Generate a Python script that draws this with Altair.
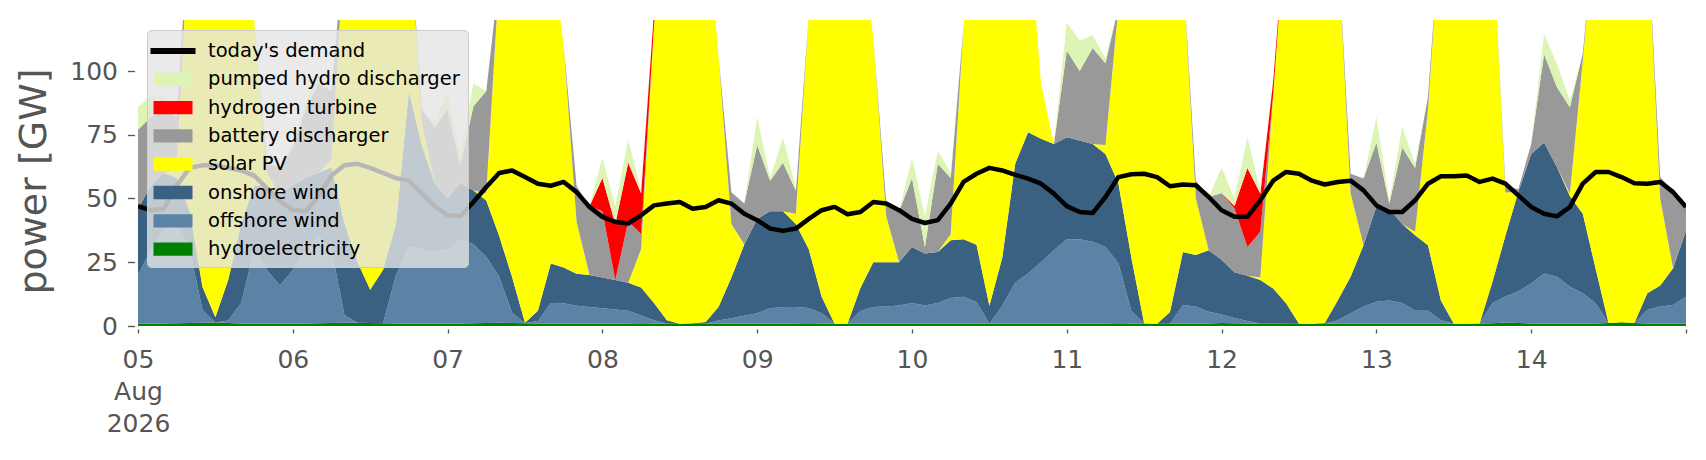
import altair as alt
import pandas as pd

# 2-hourly values, 05 Aug 2026 00:00 .. 15 Aug 2026 00:00 (one line per day)
hydro = [1.0, 1.0, 1.0, 1.1, 1.2, 1.3, 1.4, 1.2, 1.0, 1.0, 0.9, 0.9,
         1.0, 1.0, 1.1, 1.2, 1.3, 1.3, 1.2, 1.1, 1.0, 1.0, 1.0, 0.9,
         1.0, 1.0, 1.1, 1.2, 1.3, 1.2, 1.1, 1.0, 1.0, 0.9, 0.9, 1.0,
         1.0, 1.0, 1.0, 1.1, 1.0, 1.0, 0.9, 0.9, 0.9, 0.9, 1.0, 1.0,
         1.0, 1.0, 1.0, 1.0, 1.1, 1.0, 0.9, 0.9, 0.9, 1.0, 1.0, 1.0,
         1.0, 1.0, 1.0, 1.0, 1.0, 0.9, 0.9, 0.9, 1.0, 1.0, 1.0, 1.0,
         1.0, 1.0, 1.0, 1.0, 1.1, 1.0, 1.0, 0.9, 0.9, 1.0, 1.0, 1.0,
         1.2, 1.1, 1.0, 1.0, 1.0, 0.9, 0.9, 0.9, 1.0, 1.0, 1.0, 1.0,
         1.0, 1.0, 1.0, 1.0, 1.0, 1.0, 0.9, 0.9, 1.0, 1.1, 1.4, 1.2,
         1.0, 1.0, 1.0, 1.0, 1.0, 1.0, 1.2, 1.5, 1.2, 1.0, 1.0, 1.0,
         1.0]

offshore = [19, 29, 37, 39, 29, 5, 0, 1, 8, 29, 21, 15,
            21, 29, 34, 29, 3, 0, 0, 0, 19, 30, 29, 28,
            29, 33, 31, 26, 18, 4, 0, 1, 8, 8, 7, 6.5,
            6, 5.5, 5, 3, 1.3, 0, 0, 0, 0, 1.3, 2, 3,
            4, 6, 6.5, 6.5, 6, 4, 0, 0, 5, 6.5, 6.6, 7,
            8, 7, 8, 10, 10.5, 8.5, 0, 7, 16, 19.6, 24, 28.7,
            33, 33, 32, 30, 23.5, 5, 0, 0, 0, 7.2, 6.6, 4.6,
            3.3, 2, 1, 0, 0, 0, 0, 0, 0, 1.3, 4, 6.6,
            8.5, 9, 8, 5, 5, 1.3, 0, 0, 0, 7.9, 10.2, 12.4,
            15.7, 19.6, 18.3, 14.4, 11.8, 7.9, 0, 0, 0, 5.3, 6.6, 7.2,
            10.5]

onshore = [26, 25, 22, 18, 15, 9, 2, 16, 31, 25, 33, 36,
           33, 28, 25, 32, 36, 24, 13, 21, 20, 61, 41, 27,
           20, 22, 21, 22, 16, 14, 0.2, 4, 15.5, 14, 12.6, 12.5,
           12, 11.5, 11, 11, 6.7, 1.3, 0, 0.2, 0.7, 5.3, 16, 28,
           37, 38, 37.5, 32.5, 23, 6.5, 0, 0, 9, 17.5, 17.4, 17,
           22, 20.4, 20, 22.6, 22.5, 22.5, 7, 19, 46.6, 55.4, 48.4, 41.7,
           40, 38.7, 38.4, 36.5, 31.3, 21, 0, 0, 4.6, 20.8, 20.2, 24.1,
           21.5, 18, 17.7, 17, 13.7, 8, 0, 0, 0.2, 7.7, 14.3, 24.1,
           37.5, 36, 31, 29.6, 25.7, 7.7, 0, 0, 0, 8.4, 23.8, 39,
           50.8, 51.4, 43, 35.6, 31.2, 13.5, 0, 0, 0, 6.5, 8.3, 14.4,
           26]

solar = [0, 0, 0, 4, 115, 155, 162, 147, 110, 65, 5, 0,
         0, 0, 0, 3, 110, 140, 156, 148, 125, 68, 9, 0,
         0, 0, 0, 3, 102, 141, 164, 159, 125.5, 87, 20.4, 0,
         0, 0, 0, 15, 109, 157.7, 169, 168.8, 163.3, 98.4, 21, 0,
         0, 0, 0, 4, 92, 148.5, 164, 164, 140, 88, 18, 0,
         0, 0, 0, 2.4, 84, 128, 157, 143, 116.4, 84, 21.6, 0,
         0, 0, 0, 3.5, 69.2, 138, 169, 169, 154.4, 111, 22.2, 0,
         0, 0, 0, 1, 76.3, 151, 169, 169, 163.8, 140, 32.7, 0,
         0, 0, 0, 1.4, 53.3, 150, 169, 169, 164, 136.7, 17, 0,
         0, 0, 0, 1, 60, 137.6, 169, 169, 164, 143.2, 34.1, 0,
         0]

battery = [31, 27, 25, 20, 0, 0, 0, 0, 0, 0, 4, 10,
           15, 27, 35, 27, 0, 0, 0, 0, 0, 0, 5, 22,
           35, 7, 33, 40, 0, 0, 0, 0, 0, 0, 14, 27,
           26, 0, 24, 6, 0, 0, 0, 0, 0, 0, 12.5, 16,
           29, 12, 19, 9, 0, 0, 0, 0, 0, 0, 5.6, 20,
           27, 2.6, 34.6, 22, 0, 0, 0, 0, 0, 0, 0, 0,
           34, 27.3, 37.6, 32, 0, 0, 0, 0, 0, 0, 7, 20.9,
           26.2, 25, 11.3, 18, 0, 0, 0, 0, 0, 0, 7.7, 26.1,
           25, 2, 30, 25, 5, 0, 0, 0, 0, 0, 2.5, 1,
           3.9, 34.6, 31.3, 33.8, 3, 0, 0, 0, 0, 0, 8.4, 30.4,
           9.2]

hydrogen = [0, 0, 0, 0, 0, 0, 0, 0, 0, 0, 0, 0,
            0, 0, 0, 0, 0, 0, 0, 0, 0, 0, 0, 0,
            0, 0, 0, 0, 0, 0, 0, 0, 0, 0, 0, 0,
            13, 22, 23, 16, 5, 0, 0, 0, 0, 0, 0, 0,
            0, 0, 0, 0, 0, 0, 0, 0, 0, 0, 0, 0,
            0, 0, 0, 0, 0, 0, 0, 0, 0, 0, 0, 0,
            0, 0, 0, 0, 0, 0, 0, 0, 0, 0, 0, 0,
            0, 1, 31, 15, 5, 0, 0, 0, 0, 0, 0, 0,
            0, 0, 0, 0, 0, 0, 0, 0, 0, 0, 0, 0,
            0, 0, 0, 0, 0, 0, 0, 0, 0, 0, 0, 0,
            0]

pumped = [9, 8, 5, 0, 0, 0, 0, 0, 0, 0, 0, 0,
          2, 3, 3, 0, 0, 0, 0, 0, 0, 0, 0, 2,
          7, 4, 9, 0, 0, 0, 0, 0, 0, 0, 0, 0,
          8, 7, 9, 1, 0, 0, 0, 0, 0, 0, 0, 0,
          11, 1, 10, 1, 0, 0, 0, 0, 0, 0, 0, 0,
          8, 12, 5.2, 2, 0, 0, 0, 0, 0, 0, 0, 0,
          11, 12, 5, 2, 0, 0, 0, 0, 0, 0, 0, 0,
          10, 3, 12, 1, 0, 0, 0, 0, 0, 0, 0, 0,
          10, 1, 8, 1.6, 0, 0, 0, 0, 0, 0, 0, 0,
          0, 7.9, 9.1, 2.6, 0, 0, 0, 0, 0, 0, 0, 0,
          0]

demand = [47, 45.4, 46, 55, 62, 63, 63, 62, 61, 59, 54, 49,
          45.5, 45, 51, 59, 63, 63.6, 62, 60, 58, 57, 52, 47,
          43.4, 43, 48.6, 54.5, 60, 61, 58.4, 55.8, 55, 56.5, 52.5, 46.7,
          42.8, 40.8, 40.2, 43.4, 47.3, 48, 48.6, 46, 46.7, 49.3, 48, 44,
          41.5, 38.2, 37.3, 38.2, 42, 45.4, 46.7, 43.8, 44.7, 48.6, 48, 45.4,
          42, 40.4, 41.5, 48, 56.5, 59.7, 62, 61, 59.3, 57.8, 55.8, 51.9,
          47, 44.7, 44.3, 50.6, 58.4, 59.5, 59.7, 58.4, 54.8, 55.5, 55.2, 50.6,
          45.4, 42.8, 42.8, 49.3, 57, 60.4, 59.7, 57, 55.5, 56.5, 57, 53.2,
          47.3, 44.7, 44.7, 49.3, 55.8, 58.7, 58.7, 59, 56.5, 57.8, 55.8, 51.2,
          46.7, 44, 43, 46.7, 55.8, 60.4, 60.4, 58.4, 56, 55.8, 56.5, 52.5,
          46.7]

legend_names = ["today's demand", "pumped hydro discharger", "hydrogen turbine",
                "battery discharger", "solar PV", "onshore wind", "offshore wind",
                "hydroelectricity"]
legend_colors = ["#000000", "#dcf5b4", "#ff0000", "#999999", "#ffff00",
                 "#3b6182", "#5b83a5", "#008000"]

times = [t.strftime("%Y-%m-%dT%H:%M:%S")
         for t in pd.date_range("2026-08-05 00:00", periods=121, freq="2h")]

stack = [("hydroelectricity", hydro), ("offshore wind", offshore),
         ("onshore wind", onshore), ("solar PV", solar),
         ("battery discharger", battery), ("hydrogen turbine", hydrogen),
         ("pumped hydro discharger", pumped)]

rows = []
for rank, (name, vals) in enumerate(stack):
    if len(vals) != len(times):
        raise ValueError(f"{name}: {len(vals)} values")
    for t, v in zip(times, vals):
        rows.append({"time": t, "carrier": name, "value": v, "rank": rank})
gen = pd.DataFrame(rows)
dem = pd.DataFrame({"time": times, "demand": demand})

FONT = "DejaVu Sans"
GREY = "#555555"

x_enc = alt.X(
    "time:T",
    scale=alt.Scale(domain=[alt.DateTime(year=2026, month=8, date=5, hours=0),
                            alt.DateTime(year=2026, month=8, date=15, hours=0)],
                    nice=False),
    axis=alt.Axis(
        title=None, grid=False, domain=False,
        tickCount=alt.TimeIntervalStep(interval="day", step=1),
        labelExpr=("timeFormat(datum.value, '%d') == '05' ? ['05', 'Aug', '2026'] : "
                   "(timeFormat(datum.value, '%d') == '15' ? '' : timeFormat(datum.value, '%d'))"),
        labelFont=FONT, labelFontSize=25, labelColor=GREY, labelAngle=0,
        labelLineHeight=32, labelPadding=14, labelOverlap=False, labelFlush=False,
        tickColor=GREY, tickSize=4, tickWidth=1.3, offset=3,
    ),
)

y_scale = alt.Scale(domain=[0, 120], nice=False, zero=True)
y_axis = alt.Axis(
    values=[0, 25, 50, 75, 100], grid=False, domain=False,
    title="power [GW]", titleFont=FONT, titleFontSize=38, titleColor=GREY,
    titleFontWeight="normal", titleAngle=270, titleX=-89, titleY=161,
    titleAlign="center", titleBaseline="alphabetic",
    labelFont=FONT, labelFontSize=25, labelColor=GREY, labelPadding=10,
    tickColor=GREY, tickSize=7, tickWidth=1.3, offset=3.5,
)

sym_expr = ('datum.value == "today\'s demand" ? '
            '"M-1.73,-0.23H1.73V0.23H-1.73Z" : "M-1.5,-0.51H1.5V0.51H-1.5Z"')

legend = alt.Legend(
    title=None, orient="none", legendX=9, legendY=10, direction="vertical",
    fillColor="rgba(229,229,229,0.8)", strokeColor="#cccccc", cornerRadius=4,
    padding=8, rowPadding=5.3,
    labelFont=FONT, labelFontSize=19.5, labelColor="#000000", labelLimit=500,
    labelOffset=22, symbolOffset=5,
    symbolType=alt.ExprRef(expr=sym_expr), symbolSize=676,
    symbolStrokeWidth=0, symbolOpacity=1,
)

areas = alt.Chart(gen).mark_area(clip=True, interpolate="linear").encode(
    x=x_enc,
    y=alt.Y("value:Q", stack="zero", scale=y_scale, axis=y_axis),
    color=alt.Color("carrier:N",
                    scale=alt.Scale(domain=legend_names, range=legend_colors),
                    legend=legend),
    order=alt.Order("rank:Q", sort="ascending"),
)

line = alt.Chart(dem).mark_line(clip=True, color="black", strokeWidth=4.5,
                                strokeJoin="round").encode(
    x="time:T",
    y=alt.Y("demand:Q", scale=y_scale),
)

chart = alt.layer(areas, line).properties(
    width=1548, height=306,
    padding={"left": 130, "top": 12, "right": 10, "bottom": 120},
    autosize=alt.AutoSizeParams(type="none"),
).configure(font=FONT, background="white").configure_view(stroke=None)

chart.save("out.html", embed_options={"renderer": "svg", "actions": False})
